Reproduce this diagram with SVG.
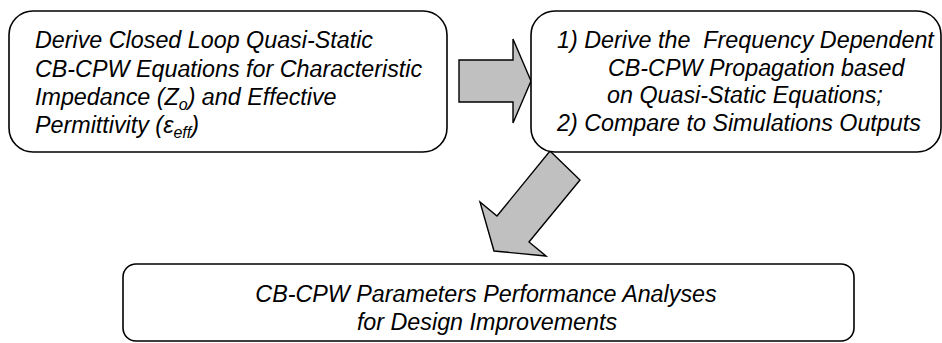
<svg xmlns="http://www.w3.org/2000/svg" width="942" height="343" viewBox="0 0 942 343">
<style>
.box{fill:#ffffff;stroke:#000000;stroke-width:1.6}
.arrow{fill:#c0c0c0;stroke:#000000;stroke-width:1.4;stroke-linejoin:miter}
text{font-family:"Liberation Sans",Arial,sans-serif;font-style:italic;font-size:23.3px;fill:#000000;white-space:pre}
.sub{font-size:16px}
</style>
<rect width="942" height="343" fill="#ffffff"/>
<g id="connectors">
<polygon class="arrow" points="459,60 513,60 513,39 531,81 513,123 513,102 459,102"/>
<polygon class="arrow" points="550,151 580,180 529,242 546,256 494,251 480,202 497,216"/>
</g>
<g id="node1">
<rect class="box" x="9" y="11" width="438" height="141" rx="24" ry="24"/>
<text x="35" y="48">Derive Closed Loop Quasi-Static</text>
<text x="35" y="77">CB-CPW Equations for Characteristic</text>
<text x="35" y="105">Impedance (Z<tspan class="sub" dy="5">o</tspan><tspan dy="-5">) and Effective</tspan></text>
<text x="35" y="133">Permittivity (ε<tspan class="sub" dy="5">eff</tspan><tspan dy="-5">)</tspan></text>
</g>
<g id="node2">
<rect class="box" x="531" y="11" width="410" height="141" rx="24" ry="24"/>
<text x="557" y="48">1) Derive the  Frequency Dependent</text>
<text x="608" y="76">CB-CPW Propagation based</text>
<text x="607" y="103">on Quasi-Static Equations;</text>
<text x="557" y="131">2) Compare to Simulations Outputs</text>
</g>
<g id="node3">
<rect class="box" x="123" y="264" width="731" height="77" rx="13" ry="13"/>
<text x="486" y="302" text-anchor="middle">CB-CPW Parameters Performance Analyses</text>
<text x="487" y="330" text-anchor="middle">for Design Improvements</text>
</g>
</svg>
